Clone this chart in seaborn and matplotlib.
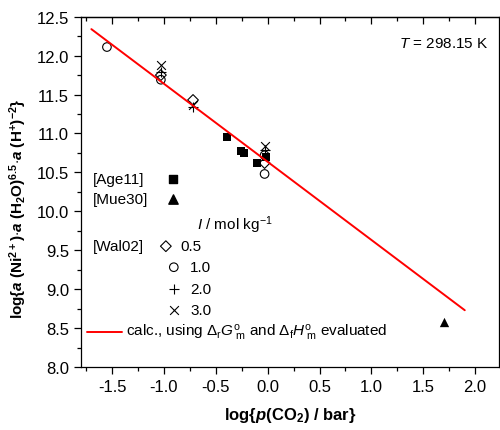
import numpy as np
import seaborn as sns
import matplotlib
matplotlib.use("Agg")
from matplotlib import pyplot as plt
from matplotlib.ticker import MultipleLocator

# data
age11_x = [-0.39, -0.26, -0.23, -0.10, -0.02]
age11_y = [10.96, 10.77, 10.75, 10.62, 10.70]

mue30_x = [1.70]
mue30_y = [8.58]

# Wal02, one list per ionic strength
wal_05_x = [-1.03, -0.72, -0.03]
wal_05_y = [11.75, 11.43, 10.62]
wal_10_x = [-1.55, -1.03, -0.03, -0.03]
wal_10_y = [12.11, 11.69, 10.72, 10.48]
wal_20_x = [-1.03, -0.72, -0.03]
wal_20_y = [11.79, 11.34, 10.79]
wal_30_x = [-1.03, -0.72, -0.03]
wal_30_y = [11.88, 11.36, 10.84]

calc_x = [-1.70, 1.90]
calc_y = [12.34, 8.73]

sns.set_theme(style="ticks")
plt.rcParams["font.family"] = ["Liberation Sans", "DejaVu Sans"]
plt.rcParams["text.color"] = "black"
plt.rcParams["axes.labelcolor"] = "black"
plt.rcParams["mathtext.fontset"] = "custom"
plt.rcParams["mathtext.rm"] = "Liberation Sans"
plt.rcParams["mathtext.it"] = "Liberation Sans:italic"
plt.rcParams["mathtext.bf"] = "Liberation Sans:bold"
plt.rcParams["mathtext.bfit"] = "Liberation Sans:italic:bold"

fig = plt.figure(figsize=(5.0, 4.31), dpi=100)
ax = fig.add_axes([0.162, 0.146, 0.836, 0.813])

sns.lineplot(x=calc_x, y=calc_y, color="red", linewidth=1.4, ax=ax)

opn = dict(facecolors="none", edgecolors="black", linewidth=0.8, s=38)
sns.scatterplot(x=age11_x, y=age11_y, marker="s", color="black", s=34, linewidth=0, ax=ax)
sns.scatterplot(x=mue30_x, y=mue30_y, marker="^", color="black", s=45, linewidth=0, ax=ax)
sns.scatterplot(x=wal_05_x, y=wal_05_y, marker="D", ax=ax, **dict(opn, s=30))
sns.scatterplot(x=wal_10_x, y=wal_10_y, marker="o", ax=ax, **opn)
sns.scatterplot(x=wal_20_x, y=wal_20_y, marker="+", color="black", s=45, linewidth=0.8, ax=ax)
sns.scatterplot(x=wal_30_x, y=wal_30_y, marker="x", color="black", s=40, linewidth=0.8, ax=ax)

ax.set_xlim(-1.8, 2.23)
ax.set_ylim(8.0, 12.5)
ax.xaxis.set_major_locator(MultipleLocator(0.5))
ax.xaxis.set_minor_locator(MultipleLocator(0.25))
ax.yaxis.set_major_locator(MultipleLocator(0.5))
ax.yaxis.set_minor_locator(MultipleLocator(0.25))
ax.xaxis.set_major_formatter(matplotlib.ticker.FormatStrFormatter("%.1f"))
ax.yaxis.set_major_formatter(matplotlib.ticker.FormatStrFormatter("%.1f"))
ax.tick_params(which="both", direction="out", labelsize=12, color="black", labelcolor="black")
ax.tick_params(which="major", length=5, width=0.9)
ax.tick_params(which="minor", length=3, width=0.9)
# inward ticks on the top frame
ax2 = ax.secondary_xaxis("top")
ax2.xaxis.set_major_locator(MultipleLocator(0.5))
ax2.xaxis.set_minor_locator(MultipleLocator(0.25))
ax2.tick_params(which="both", direction="in", labeltop=False, color="black")
ax2.tick_params(which="major", length=5, width=0.9)
ax2.tick_params(which="minor", length=3, width=0.9)
ax2.spines["top"].set_color("black")
ax2.spines["top"].set_linewidth(0.9)
for s in ax.spines.values():
    s.set_color("black")
    s.set_linewidth(0.9)

ax.set_xlabel(r"log{$\mathbfit{p}$(CO$_\mathbf{2}$) / bar}", fontsize=12, fontweight="bold", labelpad=8)
ax.set_ylabel(r"log{$\mathbfit{a}$ (Ni$^{\mathbf{2+}}$)$\cdot$$\mathbfit{a}$ (H$_\mathbf{2}$O)$^{\mathbf{6.5}}$$\cdot$$\mathbfit{a}$ (H$^{\mathbf{+}}$)$^{\mathbf{-2}}$}",
              fontsize=11, fontweight="bold")
ax.yaxis.set_label_coords(-0.125, 0.455)

ax.text(0.975, 0.925, r"$T$ = 298.15 K", transform=ax.transAxes, ha="right", va="center", fontsize=11)

# hand made legend
tr = ax.transAxes
fs = 11
ax.text(0.029, 0.537, "[Age11]", transform=tr, va="center", fontsize=fs)
ax.scatter([0.220], [0.537], marker="s", color="black", s=34, transform=tr)
ax.text(0.029, 0.480, "[Mue30]", transform=tr, va="center", fontsize=fs)
ax.scatter([0.220], [0.480], marker="^", color="black", s=45, transform=tr)
ax.text(0.277, 0.408, r"$I$ / mol kg$^{-1}$", transform=tr, va="center", fontsize=fs)
ax.text(0.029, 0.345, "[Wal02]", transform=tr, va="center", fontsize=fs)
ax.scatter([0.203], [0.345], marker="D", transform=tr, **dict(opn, s=30))
ax.text(0.237, 0.345, "0.5", transform=tr, va="center", fontsize=fs)
ax.scatter([0.222], [0.285], marker="o", transform=tr, **opn)
ax.text(0.261, 0.285, "1.0", transform=tr, va="center", fontsize=fs)
ax.scatter([0.222], [0.223], marker="+", color="black", s=45, linewidth=0.8, transform=tr)
ax.text(0.261, 0.223, "2.0", transform=tr, va="center", fontsize=fs)
ax.scatter([0.222], [0.163], marker="x", color="black", s=40, linewidth=0.8, transform=tr)
ax.text(0.261, 0.163, "3.0", transform=tr, va="center", fontsize=fs)
ax.plot([0.014, 0.099], [0.100, 0.100], color="red", linewidth=1.4, transform=tr)
ax.text(0.108, 0.100, r"calc., using $\Delta_{\rm r}G^{\rm o}_{\ \rm m}$ and $\Delta_{\rm f}H^{\rm o}_{\ \rm m}$ evaluated",
        transform=tr, va="center", fontsize=fs)

fig.savefig("out.png", dpi=100)
